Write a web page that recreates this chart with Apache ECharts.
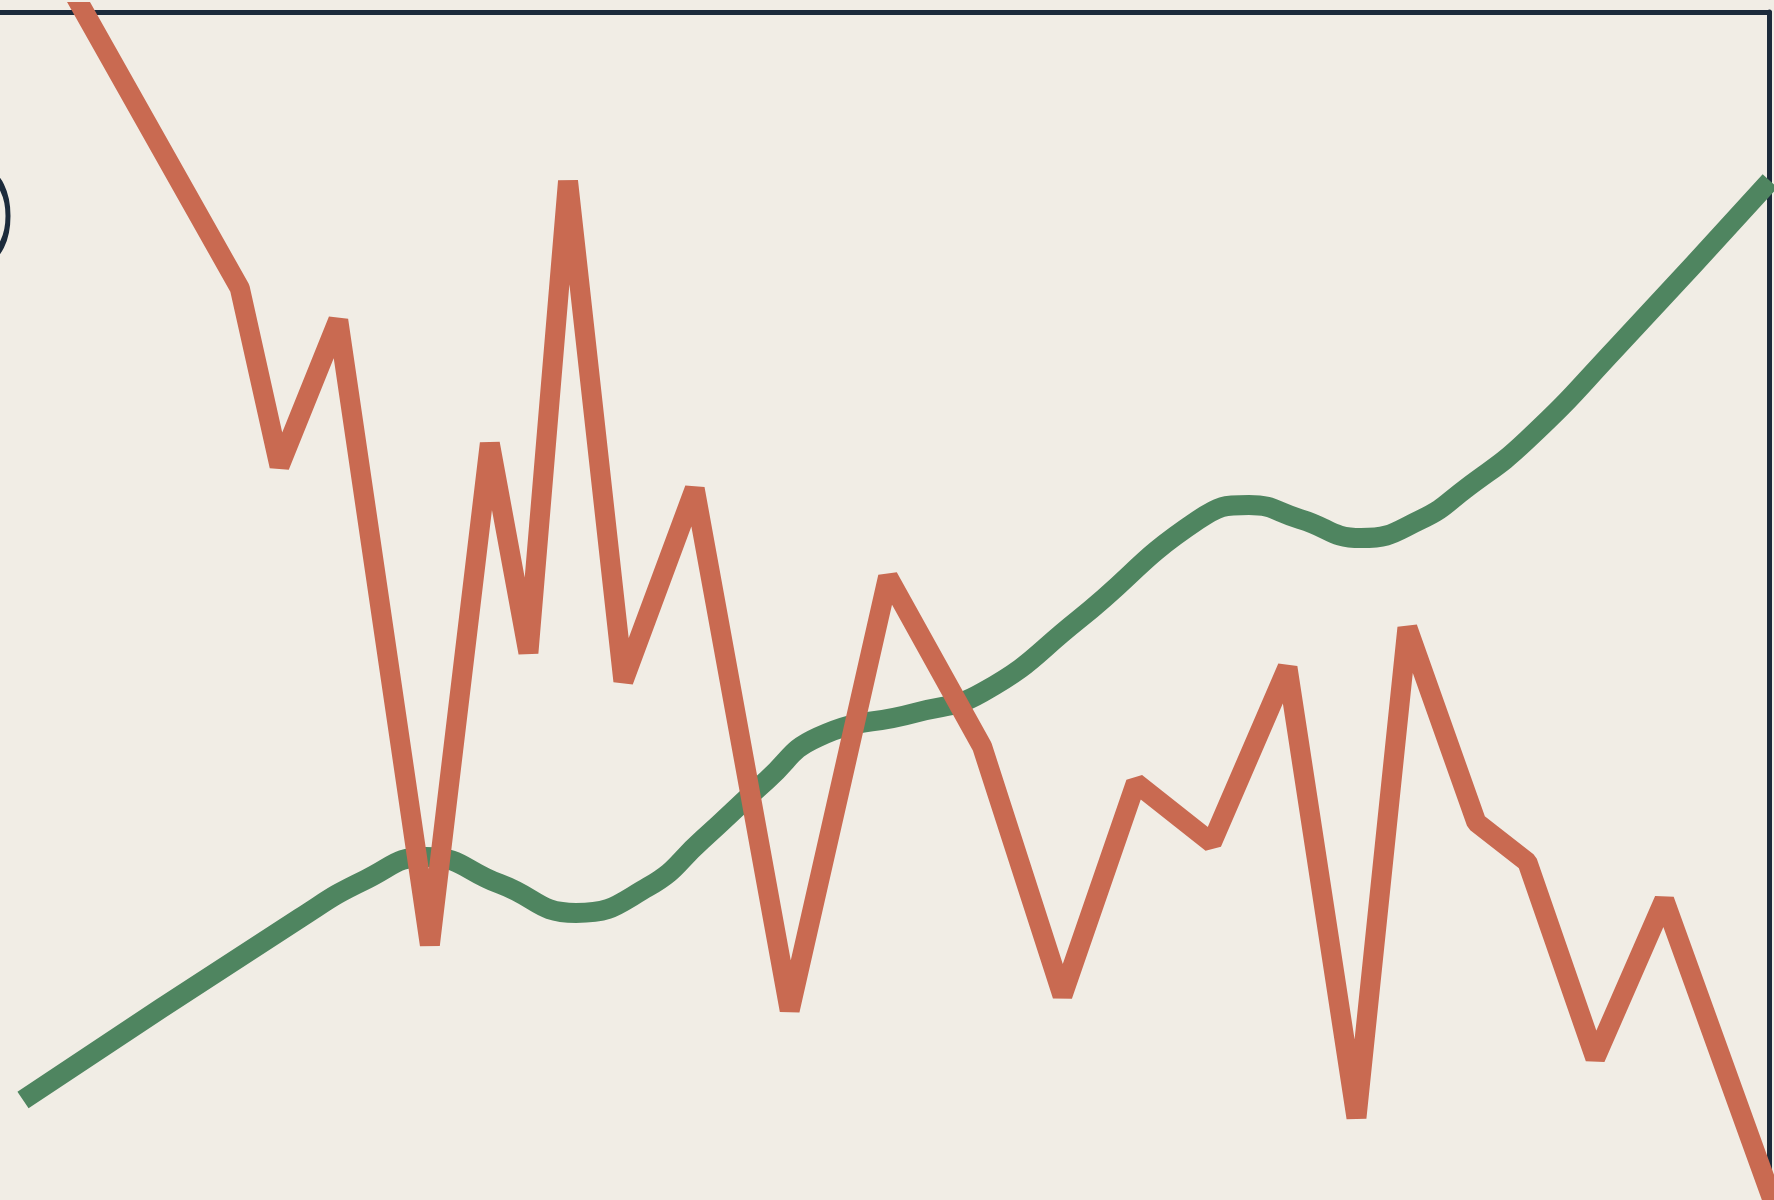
<!DOCTYPE html>
<html>
<head>
<meta charset="utf-8">
<script src="https://cdn.jsdelivr.net/npm/echarts@6/dist/echarts.min.js"></script>
<style>
  html, body { margin: 0; padding: 0; background: #f1ede5; }
  #chart { width: 1774px; height: 1200px; }
</style>
</head>
<body>
<div id="chart"></div>
<script>
// Red (volatile) series: x positions and values
const redX = [2.26, 13.56, 15.80, 19.12, 24.30, 27.69, 29.87, 32.11, 35.24, 39.27, 44.64, 50.20, 55.52, 60.06, 64.21, 68.50, 72.78, 76.68, 79.56, 83.46, 86.34, 90.18, 94.08, 101.75];
const redY = [106.6, 76.73, 61.78, 74.06, 21.49, 63.68, 46.06, 85.77, 43.68, 59.86, 15.97, 52.44, 38.16, 17.21, 35.11, 30.06, 44.82, 6.92, 48.16, 31.78, 28.44, 11.96, 25.25, -6.40];

// Green (smooth trend) series
const greenX = [1.30, 16.96, 20.63, 24.08, 28.26, 32.56, 36.63, 39.68, 43.36, 46.24, 51.67, 55.57, 60.94, 67.72, 70.60, 73.49, 76.94, 80.27, 82.98, 86.32, 91.41, 100.06];
const greenY = [8.42, 23.74, 26.94, 28.87, 26.60, 24.16, 26.35, 30.30, 35.35, 38.97, 40.99, 42.76, 48.82, 57.24, 58.50, 57.32, 55.72, 57.24, 60.02, 63.97, 71.80, 85.77];

const xRange = [0, 100];
const yRange = [0, 100];

const pair = (xs, ys) => xs.map((x, i) => [x, ys[i]]);

const chart = echarts.init(document.getElementById('chart'), null, { renderer: 'canvas' });
const borderColor = '#1c2b3b';
chart.setOption({
  backgroundColor: '#f1ede5',
  animation: false,
  grid: { left: 0, right: 5, top: 12, bottom: 0, containLabel: false },
  xAxis: {
    type: 'value', min: xRange[0], max: xRange[1], position: 'top',
    axisLine: { show: true, onZero: false, lineStyle: { color: borderColor, width: 5 } },
    axisTick: { show: false }, axisLabel: { show: false }, splitLine: { show: false }
  },
  yAxis: {
    type: 'value', min: yRange[0], max: yRange[1], position: 'right',
    axisLine: { show: true, onZero: false, lineStyle: { color: borderColor, width: 5 } },
    axisTick: { show: false }, axisLabel: { show: false }, splitLine: { show: false }
  },
  graphic: [{
    type: 'circle',
    shape: { cx: 0, cy: 0, r: 40 },
    x: -12, y: 216, scaleX: 0.5,
    style: { fill: 'none', stroke: borderColor, lineWidth: 10 },
    z: 10
  }],
  series: [
    {
      type: 'line', data: pair(greenX, greenY), symbol: 'none', smooth: 0.5,
      clip: true,
      lineStyle: { color: '#4f8560', width: 20, cap: 'butt', join: 'round' },
      z: 2
    },
    {
      type: 'line', data: pair(redX, redY), symbol: 'none', smooth: false,
      clip: true,
      lineStyle: { color: '#c96a51', width: 20, cap: 'butt', join: 'bevel' },
      z: 3
    }
  ]
});
</script>
</body>
</html>
